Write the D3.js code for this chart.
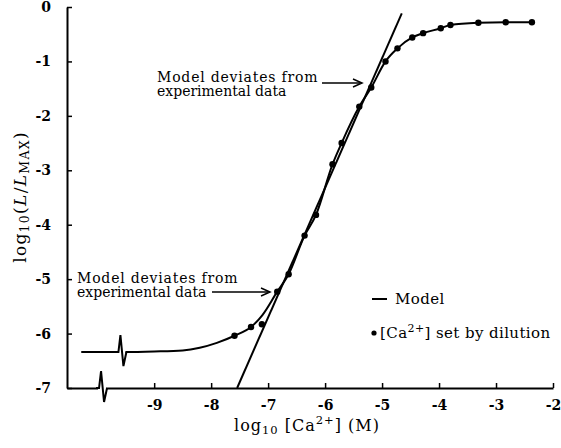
<!DOCTYPE html>
<html>
<head>
<meta charset="utf-8">
<script src="https://cdn.jsdelivr.net/npm/d3@7"></script>
<style>
  html, body { margin: 0; padding: 0; background: #fff; }
  svg { display: block; }
  text { font-family: "DejaVu Serif", "Liberation Serif", serif; fill: #000; }
</style>
</head>
<body>
<svg id="chart" width="561" height="448"></svg>
<script>
// Axis ticks
const xTicks = [-9, -8, -7, -6, -5, -4, -3, -2];
const yTicks = [-7, -6, -5, -4, -3, -2, -1, 0];

// Measured luminescence, [Ca2+] set by dilution
const dataLogCa = [-7.59, -7.30, -7.11, -6.84, -6.64, -6.36, -6.16, -5.87, -5.71, -5.40,
                   -5.19, -4.94, -4.73, -4.47, -4.28, -3.97, -3.80, -3.31, -2.83, -2.37];
const dataLogL  = [-6.04, -5.88, -5.83, -5.23, -4.91, -4.20, -3.82, -2.89, -2.50, -1.83,
                   -1.48, -1.00, -0.76, -0.56, -0.48, -0.39, -0.33, -0.29, -0.28, -0.28];

// Smooth curve through the experimental data
const fitLogCa = [-10.28, -9.5, -9.0, -8.5, -8.2, -7.9, -7.59, -7.30, -7.10, -6.84, -6.64, -6.36,
                  -6.16, -5.87, -5.71, -5.40, -5.19, -4.94, -4.73, -4.47, -4.28, -3.97, -3.80,
                  -3.31, -2.83, -2.37];
const fitLogL  = [-6.34, -6.34, -6.33, -6.31, -6.26, -6.17, -6.04, -5.88, -5.66, -5.23, -4.91, -4.20,
                  -3.82, -2.89, -2.50, -1.83, -1.48, -1.00, -0.76, -0.56, -0.48, -0.39, -0.33,
                  -0.29, -0.28, -0.28];

// Model: straight line in log-log space
const modelLogCa = [-7.544, -4.654];
const modelLogL  = [-7.0, -0.116];

// Axis breaks (x position in log units)
const axisBreakX = -9.95;
const curveBreakX = -9.61;

const svg = d3.select("#chart");

const x = d3.scaleLinear().domain([-10.53, -2]).range([67, 553]);
const y = d3.scaleLinear().domain([-7, 0]).range([388, 7]);

const minus = d => d3.format("d")(d).replace("\u2212", "-");

// X axis
const gx = svg.append("g")
  .attr("transform", `translate(0,${y(-7)})`)
  .call(d3.axisBottom(x).tickValues(xTicks).tickFormat(minus)
        .tickSizeInner(-5).tickSizeOuter(0).tickPadding(12));
gx.select(".domain").attr("stroke-width", 2);
gx.selectAll(".tick line").attr("stroke-width", 1.5);
gx.selectAll(".tick text")
  .attr("font-size", 14).attr("font-weight", "bold").attr("font-family", "DejaVu Serif");

// Y axis
const gy = svg.append("g")
  .attr("transform", `translate(${x.range()[0]},0)`)
  .call(d3.axisLeft(y).tickValues(yTicks).tickFormat(minus)
        .tickSizeInner(-5).tickSizeOuter(0).tickPadding(16));
gy.select(".domain").attr("stroke-width", 2);
gy.selectAll(".tick line").attr("stroke-width", 1.5);
gy.selectAll(".tick text")
  .attr("font-size", 14).attr("font-weight", "bold").attr("font-family", "DejaVu Serif");

// Break symbol: a small zigzag drawn on a horizontal line
function zigzag(cx, cy, up, down) {
  return `M${cx - 4},${cy} L${cx - 1},${cy} L${cx + 1},${cy - up} L${cx + 4},${cy + down} L${cx + 7},${cy}`;
}

// Experimental curve
const line = d3.line().x(d => x(d[0])).y(d => y(d[1])).curve(d3.curveMonotoneX);
const fitPts = fitLogCa.map((v, i) => [v, fitLogL[i]]);
svg.append("path")
  .attr("d", line(fitPts))
  .attr("fill", "none").attr("stroke", "#000").attr("stroke-width", 2);

// Breaks: on the curve and on the x axis
svg.append("rect")
  .attr("x", x(curveBreakX) - 2).attr("y", y(-6.34) - 2).attr("width", 8).attr("height", 4)
  .attr("fill", "#fff");
svg.append("path")
  .attr("d", zigzag(x(curveBreakX), y(-6.34), 17, 14))
  .attr("fill", "none").attr("stroke", "#000").attr("stroke-width", 2).attr("stroke-linejoin", "miter");
svg.append("rect")
  .attr("x", x(axisBreakX) - 2).attr("y", y(-7) - 2).attr("width", 8).attr("height", 4)
  .attr("fill", "#fff");
svg.append("path")
  .attr("d", zigzag(x(axisBreakX), y(-7), 17, 14))
  .attr("fill", "none").attr("stroke", "#000").attr("stroke-width", 2).attr("stroke-linejoin", "miter");

// Model line
const modelPts = modelLogCa.map((v, i) => [v, modelLogL[i]]);
svg.append("path")
  .attr("d", d3.line().x(d => x(d[0])).y(d => y(d[1]))(modelPts))
  .attr("fill", "none").attr("stroke", "#000").attr("stroke-width", 2);

// Data points
svg.append("g").selectAll("circle")
  .data(dataLogCa.map((v, i) => [v, dataLogL[i]]))
  .join("circle")
  .attr("cx", d => x(d[0])).attr("cy", d => y(d[1])).attr("r", 3.2)
  .attr("fill", "#000");

// Annotations
function note(tx, ty, ax1, ax2, ay) {
  const g = svg.append("g").attr("font-size", 14);
  g.append("text").attr("x", tx).attr("y", ty).attr("letter-spacing", 0.8).text("Model deviates from");
  g.append("text").attr("x", tx).attr("y", ty + 14).text("experimental data");
  g.append("line").attr("x1", ax1).attr("x2", ax2 - 2).attr("y1", ay).attr("y2", ay)
    .attr("stroke", "#000").attr("stroke-width", 1.5);
  g.append("path")
    .attr("d", `M${ax2 - 9},${ay - 4} L${ax2},${ay} L${ax2 - 9},${ay + 4}`)
    .attr("fill", "none").attr("stroke", "#000").attr("stroke-width", 1.5);
}
note(157, 82, 322, 362, 83);
note(77, 283, 212, 270, 292);

// Legend
svg.append("line").attr("x1", 372).attr("x2", 387).attr("y1", 299).attr("y2", 299)
  .attr("stroke", "#000").attr("stroke-width", 2);
svg.append("text").attr("x", 395).attr("y", 304).attr("font-size", 15).attr("letter-spacing", 0.4).text("Model");
svg.append("circle").attr("cx", 374).attr("cy", 333).attr("r", 2.6).attr("fill", "#000");
const lt = svg.append("text").attr("x", 380).attr("y", 338).attr("font-size", 15).attr("letter-spacing", 0.4);
lt.append("tspan").text("[Ca");
lt.append("tspan").attr("font-size", 11).attr("dy", -6).text("2+");
lt.append("tspan").attr("dy", 6).text("] set by dilution");

// Axis titles
const xt = svg.append("text").attr("x", 307).attr("y", 431).attr("text-anchor", "middle")
  .attr("font-size", 16).attr("letter-spacing", 1);
xt.append("tspan").text("log");
xt.append("tspan").attr("font-size", 11.5).attr("dy", 3).text("10");
xt.append("tspan").attr("dy", -3).text(" [Ca");
xt.append("tspan").attr("font-size", 11.5).attr("dy", -7).text("2+");
xt.append("tspan").attr("dy", 7).text("] (M)");

const yt = svg.append("text")
  .attr("transform", "translate(26,197) rotate(-90)")
  .attr("text-anchor", "middle").attr("font-size", 17).attr("letter-spacing", 1.3);
yt.append("tspan").text("log");
yt.append("tspan").attr("font-size", 12.5).attr("dy", 3).text("10");
yt.append("tspan").attr("dy", -3).text("(");
yt.append("tspan").attr("font-style", "italic").text("L");
yt.append("tspan").text("/");
yt.append("tspan").attr("font-style", "italic").text("L");
yt.append("tspan").attr("font-size", 12.5).attr("dy", 3).text("MAX");
yt.append("tspan").attr("dy", -3).text(")");
</script>
</body>
</html>
